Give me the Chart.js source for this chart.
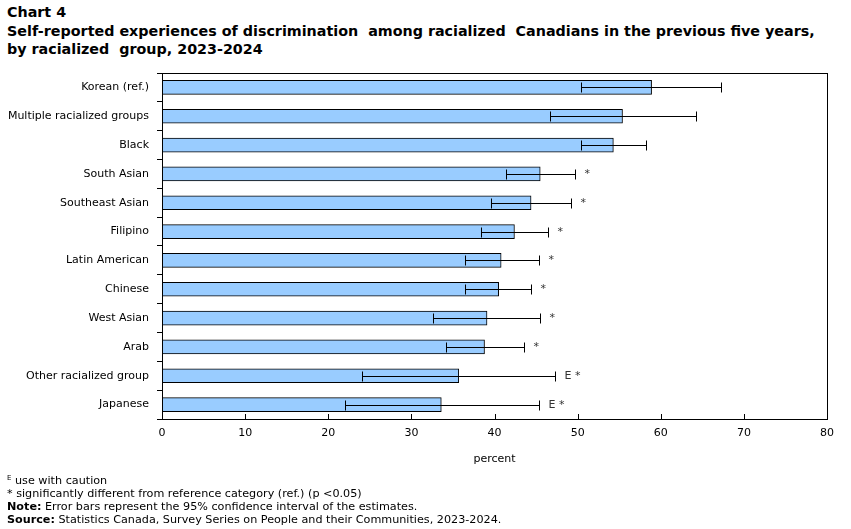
<!DOCTYPE html>
<html>
<head>
<meta charset="utf-8">
<script src="https://cdn.jsdelivr.net/npm/chart.js@4"></script>
<style>
  body { margin: 0; background: #fff; width: 851px; height: 529px; overflow: hidden; position: relative; }
  #title { position: absolute; left: 7px; top: 3px; font: bold 14.3px "DejaVu Sans", Verdana, sans-serif; line-height: 18.5px; color: #000; }
  #notes { position: absolute; left: 7px; top: 474px; font: 11.2px "DejaVu Sans", Verdana, sans-serif; line-height: 13px; color: #000; }
  #notes sup { font-size: 7px; vertical-align: 4px; line-height: 0; }
  #wrap { position: absolute; left: 0; top: 0; width: 851px; height: 529px; }
</style>
</head>
<body>
<div id="title">Chart 4<br>Self-reported experiences of discrimination&nbsp; among racialized&nbsp; Canadians in the previous five years,<br>by racialized&nbsp; group, 2023-2024</div>
<div id="wrap"><canvas id="chart"></canvas></div>
<div id="notes">
  <sup>E</sup> use with caution<br>
  * significantly different from reference category (ref.) (p &lt;0.05)<br>
  <b>Note:</b> Error bars represent the 95% confidence interval of the estimates.<br>
  <b>Source:</b> Statistics Canada, Survey Series on People and their Communities, 2023-2024.
</div>
<script>
// ── Chart 4 data ─────────────────────────────

const groups = [
  "Korean (ref.)",
  "Multiple racialized groups",
  "Black",
  "South Asian",
  "Southeast Asian",
  "Filipino",
  "Latin American",
  "Chinese",
  "West Asian",
  "Arab",
  "Other racialized group",
  "Japanese",
];
const percent = [58.9, 55.4, 54.3, 45.5, 44.4, 42.4, 40.8, 40.5, 39.1, 38.8, 35.7, 33.6];
const ciLow = [50.4, 46.7, 50.4, 41.4, 39.6, 38.4, 36.4, 36.5, 32.6, 34.2, 24.0, 22.0];
const ciHigh = [67.2, 64.2, 58.2, 49.7, 49.2, 46.4, 45.3, 44.4, 45.5, 43.5, 47.3, 45.3];
const flags = ["", "", "", "*", "*", "*", "*", "*", "*", "*", "E *", "E *"];
const xTicks = [0, 10, 20, 30, 40, 50, 60, 70, 80];

const fontFamily = '"DejaVu Sans", Verdana, sans-serif';

// draws the plot frame, inward x ticks, CI whiskers and flags
const errorBarPlugin = {
  id: "errorBars",
  afterDatasetsDraw(chart) {
    const { ctx, chartArea, scales } = chart;
    const x = scales.x;
    const y = scales.y;
    ctx.save();
    ctx.strokeStyle = "#000";
    ctx.lineWidth = 1;

    // frame
    ctx.strokeRect(
      Math.round(chartArea.left) + 0.5,
      Math.round(chartArea.top) + 0.5,
      Math.round(chartArea.right - chartArea.left),
      Math.round(chartArea.bottom - chartArea.top),
    );

    // x ticks pointing up into the plot
    xTicks.forEach((v) => {
      const px = Math.round(x.getPixelForValue(v)) + 0.5;
      ctx.beginPath();
      ctx.moveTo(px, chartArea.bottom);
      ctx.lineTo(px, chartArea.bottom - 5);
      ctx.stroke();
    });

    // whiskers
    groups.forEach((_, i) => {
      const cy = Math.round(y.getPixelForValue(i)) + 0.5;
      const x1 = Math.round(x.getPixelForValue(ciLow[i])) + 0.5;
      const x2 = Math.round(x.getPixelForValue(ciHigh[i])) + 0.5;
      ctx.beginPath();
      ctx.moveTo(x1, cy);
      ctx.lineTo(x2, cy);
      ctx.moveTo(x1, cy - 5);
      ctx.lineTo(x1, cy + 5);
      ctx.moveTo(x2, cy - 5);
      ctx.lineTo(x2, cy + 5);
      ctx.stroke();

      if (flags[i]) {
        ctx.fillStyle = "#333";
        ctx.font = "11px " + fontFamily;
        ctx.textBaseline = "middle";
        ctx.textAlign = "left";
        ctx.fillText(flags[i], x2 + 9, cy);
      }
    });
    ctx.restore();
  },
};

new Chart(document.getElementById("chart"), {
  type: "bar",
  data: {
    labels: groups,
    datasets: [
      {
        data: percent,
        backgroundColor: "#99ccff",
        borderColor: "#000",
        borderWidth: 1,
        borderSkipped: false,
        barThickness: 14,
      },
    ],
  },
  options: {
    indexAxis: "y",
    responsive: true,
    maintainAspectRatio: false,
    animation: false,
    layout: { padding: { top: 73, right: 24, bottom: 60, left: 0 } },
    plugins: {
      legend: { display: false },
      tooltip: { enabled: false },
    },
    scales: {
      x: {
        min: 0,
        max: 80,
        afterFit: (scale) => { scale.height = 50; },
        afterBuildTicks: (scale) => { scale.ticks = xTicks.map((v) => ({ value: v })); },
        grid: { display: false, drawTicks: false },
        border: { display: false },
        ticks: {
          color: "#000",
          padding: 8,
          font: { family: fontFamily, size: 11 },
        },
        title: {
          display: true,
          text: "percent",
          color: "#000",
          padding: { top: 4, bottom: 3 },
          font: { family: fontFamily, size: 11 },
        },
      },
      y: {
        afterFit: (scale) => { scale.width = 162; },
        grid: {
          offset: true,
          drawOnChartArea: false,
          drawTicks: true,
          tickLength: 5,
          color: "#000",
        },
        border: { display: false },
        ticks: {
          color: "#000",
          padding: 8,
          font: { family: fontFamily, size: 11 },
        },
      },
    },
  },
  plugins: [errorBarPlugin],
});
</script>
</body>
</html>
